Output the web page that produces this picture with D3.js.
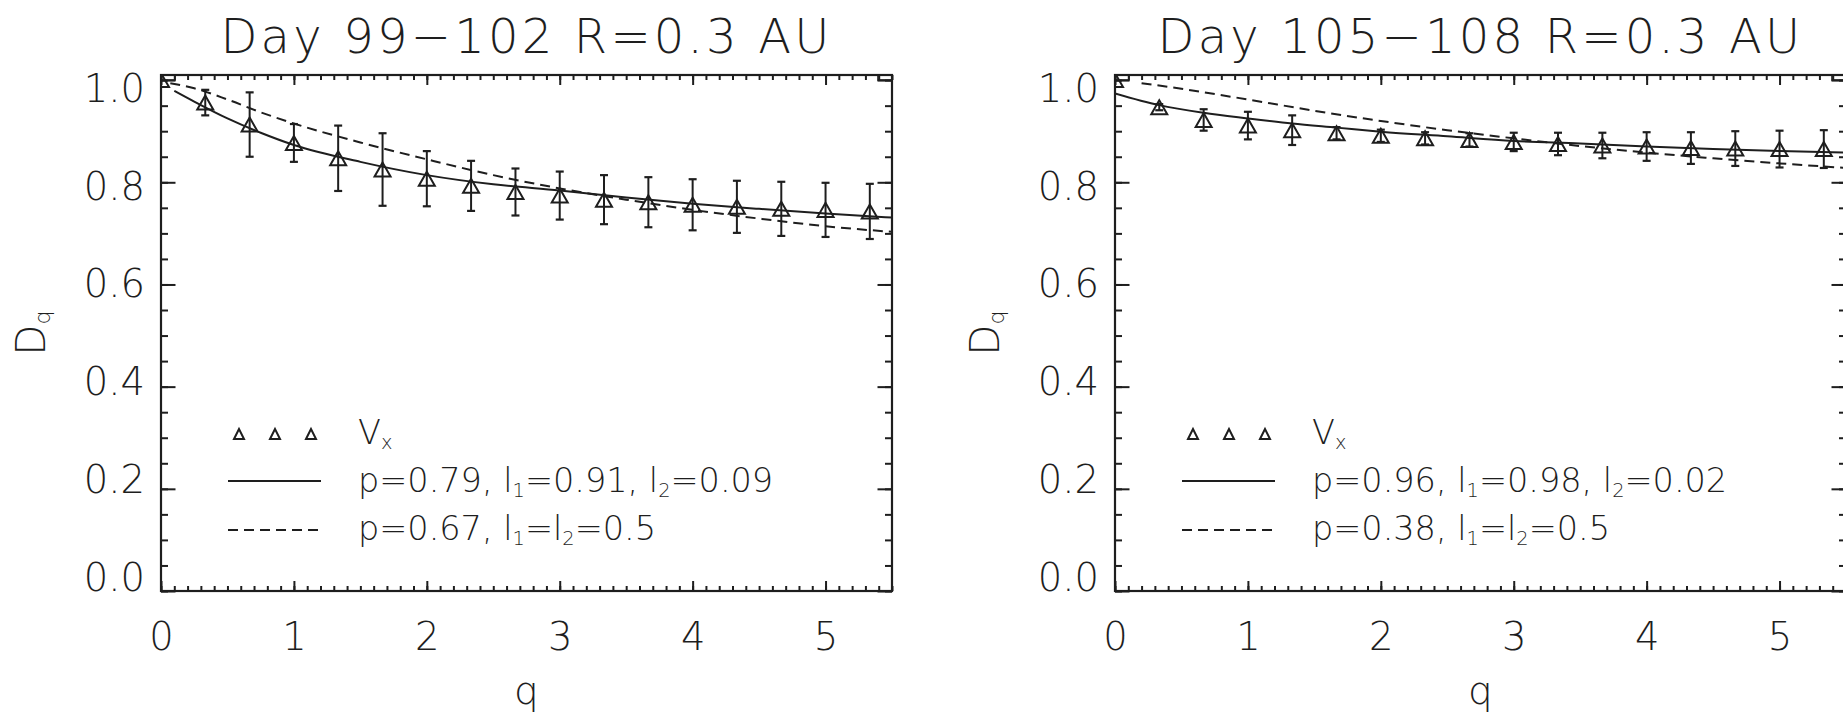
<!DOCTYPE html>
<html><head><meta charset="utf-8">
<script src="https://cdn.jsdelivr.net/npm/d3@7"></script>
<style>
html,body{margin:0;padding:0;background:#fff;}
svg text{font-family:"DejaVu Sans","Roboto",sans-serif;font-weight:200;fill:#1e1e1e;}
</style></head><body>
<svg id="chart" width="1843" height="712"></svg>
<script>
// ---------- data ----------
const titles = ["Day 99\u2212102 R=0.3 AU", "Day 105\u2212108 R=0.3 AU"];
const xTicks = [0, 1, 2, 3, 4, 5];
const yTicks = [0.0, 0.2, 0.4, 0.6, 0.8, 1.0];
const xTickLabels = ["0", "1", "2", "3", "4", "5"];
const yTickLabels = ["0.0", "0.2", "0.4", "0.6", "0.8", "1.0"];

const qPoints = [0, 0.333, 0.667, 1.0, 1.333, 1.667, 2.0, 2.333, 2.667, 3.0, 3.333, 3.667, 4.0, 4.333, 4.667, 5.0, 5.333];

const dqLeft  = [1.0, 0.956, 0.913, 0.877, 0.847, 0.825, 0.807, 0.793, 0.781, 0.774, 0.766, 0.761, 0.756, 0.752, 0.748, 0.746, 0.743];
const errLeft = [0.0, 0.025, 0.063, 0.037, 0.064, 0.071, 0.054, 0.049, 0.046, 0.047, 0.048, 0.049, 0.050, 0.051, 0.053, 0.053, 0.054];

const dqRight  = [1.0, 0.947, 0.922, 0.911, 0.902, 0.896, 0.891, 0.886, 0.883, 0.879, 0.875, 0.872, 0.870, 0.867, 0.866, 0.865, 0.865];
const errRight = [0.0, 0.006, 0.021, 0.027, 0.029, 0.012, 0.012, 0.012, 0.013, 0.018, 0.022, 0.025, 0.028, 0.031, 0.034, 0.036, 0.037];

const solidLeftQ   = [0.1, 0.25, 0.5, 0.75, 1.0, 1.5, 2.0, 2.5, 3.0, 3.5, 4.0, 4.5, 5.0, 5.5];
const solidLeftDq  = [0.979, 0.958, 0.925, 0.897, 0.873, 0.840, 0.814, 0.796, 0.784, 0.770, 0.758, 0.748, 0.739, 0.731];
const dashedLeftQ  = [0.07, 0.25, 0.5, 0.75, 1.0, 1.5, 2.0, 2.5, 3.0, 3.5, 4.0, 4.5, 5.0, 5.5];
const dashedLeftDq = [0.994, 0.984, 0.962, 0.937, 0.915, 0.878, 0.845, 0.814, 0.788, 0.766, 0.746, 0.729, 0.714, 0.703];

const solidRightQ   = [0.0, 0.333, 0.667, 1.0, 1.333, 1.667, 2.0, 2.5, 3.0, 3.5, 4.0, 4.5, 5.0, 5.5];
const solidRightDq  = [0.974, 0.951, 0.936, 0.925, 0.915, 0.907, 0.899, 0.890, 0.881, 0.876, 0.870, 0.865, 0.861, 0.858];
const dashedRightQ  = [0.2, 0.5, 1.0, 1.5, 2.0, 2.5, 3.0, 3.5, 4.0, 4.5, 5.0, 5.5];
const dashedRightDq = [0.994, 0.983, 0.962, 0.940, 0.920, 0.902, 0.886, 0.871, 0.858, 0.847, 0.837, 0.828];

// legend labels: [text, subscript?]
const legendSymbolLabel = [["V", 0], ["x", 1]];
const legendSolidLeft  = [["p=0.79, l", 0], ["1", 1], ["=0.91, l", 0], ["2", 1], ["=0.09", 0]];
const legendDashedLeft = [["p=0.67, l", 0], ["1", 1], ["=l", 0], ["2", 1], ["=0.5", 0]];
const legendSolidRight  = [["p=0.96, l", 0], ["1", 1], ["=0.98, l", 0], ["2", 1], ["=0.02", 0]];
const legendDashedRight = [["p=0.38, l", 0], ["1", 1], ["=l", 0], ["2", 1], ["=0.5", 0]];

// ---------- layout ----------
const svg = d3.select("#chart");
const INK = "#1e1e1e";
const panelW = 731, panelH = 516, topY = 75;
const panelX = [161, 1115];

const panels = [
  {title: titles[0], dq: dqLeft, err: errLeft, sq: solidLeftQ, sd: solidLeftDq, dqq: dashedLeftQ, dd: dashedLeftDq, ls: legendSolidLeft, ld: legendDashedLeft},
  {title: titles[1], dq: dqRight, err: errRight, sq: solidRightQ, sd: solidRightDq, dqq: dashedRightQ, dd: dashedRightDq, ls: legendSolidRight, ld: legendDashedRight}
];

function addRich(sel, parts, fs) {
  parts.forEach(([t, sub], i) => {
    const ts = sel.append("tspan").text(t);
    if (sub) ts.attr("font-size", fs * 0.58).attr("dy", fs * 0.16);
    else if (i > 0 && parts[i - 1][1]) ts.attr("dy", -fs * 0.16);
  });
}

panels.forEach((p, pi) => {
  const x0 = panelX[pi];
  const g = svg.append("g").attr("transform", `translate(${x0},${topY})`);
  const x = d3.scaleLinear().domain([0, 5.5]).range([0, panelW]);
  const y = d3.scaleLinear().domain([0, 1.01]).range([panelH, 0]);
  // tick-label placement scale (labels in the original sit slightly closer together than the ticks)
  const yLab = d3.scaleLinear().domain([0, 1]).range([panelH - 13, 14]);

  const clipId = "clip" + pi;
  g.append("clipPath").attr("id", clipId).append("rect")
    .attr("x", 0).attr("y", 0).attr("width", panelW).attr("height", panelH);

  // title
  svg.append("text").attr("x", x0 + panelW / 2).attr("y", 53)
    .attr("text-anchor", "middle").attr("font-size", 48).attr("letter-spacing", 3.2)
    .text(p.title);

  // axes
  const minorX = d3.range(0, 5.51, 0.1);
  const minorY = d3.range(0, 1.001, 0.05);
  const axes = [
    {a: d3.axisBottom(x).tickValues(xTicks).tickFormat((d, i) => xTickLabels[i]).tickSizeInner(-10).tickSizeOuter(0).tickPadding(32), t: `translate(0,${panelH})`},
    {a: d3.axisBottom(x).tickValues(minorX).tickFormat("").tickSizeInner(-5).tickSizeOuter(0), t: `translate(0,${panelH})`},
    {a: d3.axisTop(x).tickValues(xTicks).tickFormat("").tickSizeInner(-10).tickSizeOuter(0), t: `translate(0,0)`},
    {a: d3.axisTop(x).tickValues(minorX).tickFormat("").tickSizeInner(-5).tickSizeOuter(0), t: `translate(0,0)`},
    {a: d3.axisLeft(y).tickValues(yTicks).tickFormat("").tickSizeInner(-14.5).tickSizeOuter(0), t: `translate(0,0)`},
    {a: d3.axisLeft(yLab).tickValues(yTicks).tickFormat((d, i) => yTickLabels[i]).tickSizeInner(0).tickSizeOuter(0).tickPadding(16), t: `translate(0,0)`, nolines: true},
    {a: d3.axisLeft(y).tickValues(minorY).tickFormat("").tickSizeInner(-7).tickSizeOuter(0), t: `translate(0,0)`},
    {a: d3.axisRight(y).tickValues(yTicks).tickFormat("").tickSizeInner(-14.5).tickSizeOuter(0), t: `translate(${panelW},0)`},
    {a: d3.axisRight(y).tickValues(minorY).tickFormat("").tickSizeInner(-7).tickSizeOuter(0), t: `translate(${panelW},0)`}
  ];
  axes.forEach(ax => {
    const ag = g.append("g").attr("transform", ax.t).call(ax.a);
    ag.select(".domain").remove();
    ag.attr("font-family", null).attr("font-size", null);
    if (ax.nolines) ag.selectAll(".tick line").remove();
    ag.selectAll(".tick line").attr("stroke", INK).attr("stroke-width", 2);
    ag.selectAll(".tick text").attr("fill", INK).attr("font-size", 38.5);
  });

  // frame
  g.append("rect").attr("x", 0).attr("y", 0).attr("width", panelW).attr("height", panelH)
    .attr("fill", "none").attr("stroke", INK).attr("stroke-width", 2.2);
  // small corner boxes
  g.append("rect").attr("x", 0).attr("y", 0).attr("width", 14).attr("height", 5)
    .attr("fill", "none").attr("stroke", INK).attr("stroke-width", 1.6);
  g.append("rect").attr("x", panelW - 14).attr("y", 0).attr("width", 14).attr("height", 5)
    .attr("fill", "none").attr("stroke", INK).attr("stroke-width", 1.6);

  // axis titles
  svg.append("text").attr("x", x0 + panelW / 2).attr("y", 704)
    .attr("text-anchor", "middle").attr("font-size", 39).text("q");
  const yl = svg.append("text").attr("transform", `translate(${x0 - 116},${topY + panelH / 2}) rotate(-90)`)
    .attr("text-anchor", "middle").attr("font-size", 40);
  yl.append("tspan").text("D");
  yl.append("tspan").attr("font-size", 22).attr("dy", 5).text("q");

  const data = g.append("g").attr("clip-path", `url(#${clipId})`);

  // curves
  const line = d3.line().x(d => x(d[0])).y(d => y(d[1])).curve(d3.curveMonotoneX);
  data.append("path").datum(p.sq.map((q, i) => [q, p.sd[i]]))
    .attr("d", line).attr("fill", "none").attr("stroke", INK).attr("stroke-width", 2);
  data.append("path").datum(p.dqq.map((q, i) => [q, p.dd[i]]))
    .attr("d", line).attr("fill", "none").attr("stroke", INK).attr("stroke-width", 2)
    .attr("stroke-dasharray", "10,6");

  // error bars
  const pts = qPoints.map((q, i) => ({q, v: p.dq[i], e: p.err[i]}));
  const eb = data.selectAll(".eb").data(pts.filter(d => d.e > 0)).enter().append("g");
  eb.append("line").attr("x1", d => x(d.q)).attr("x2", d => x(d.q))
    .attr("y1", d => y(d.v - d.e)).attr("y2", d => y(d.v + d.e))
    .attr("stroke", INK).attr("stroke-width", 2);
  [1, -1].forEach(s => {
    eb.append("line").attr("x1", d => x(d.q) - 4).attr("x2", d => x(d.q) + 4)
      .attr("y1", d => y(d.v + s * d.e)).attr("y2", d => y(d.v + s * d.e))
      .attr("stroke", INK).attr("stroke-width", 2.2);
  });

  // triangles
  const tri = (cx, cy, hw, hh) => `M${cx - hw},${cy + hh}L${cx},${cy - hh}L${cx + hw},${cy + hh}Z`;
  data.selectAll(".tri").data(pts).enter().append("path")
    .attr("d", d => tri(x(d.q), y(d.v), 8, 7))
    .attr("fill", "none").attr("stroke", INK).attr("stroke-width", 2).attr("stroke-linejoin", "miter");

  // legend
  const lg = g.append("g");
  const lx = 197, r1 = 359, r2 = 406, r3 = 455;
  [78, 114, 150].forEach(cx => {
    lg.append("path").attr("d", tri(cx, r1, 5, 5)).attr("fill", "none")
      .attr("stroke", INK).attr("stroke-width", 2);
  });
  lg.append("line").attr("x1", 67).attr("x2", 160).attr("y1", r2).attr("y2", r2)
    .attr("stroke", INK).attr("stroke-width", 2);
  lg.append("line").attr("x1", 67).attr("x2", 160).attr("y1", r3).attr("y2", r3)
    .attr("stroke", INK).attr("stroke-width", 2).attr("stroke-dasharray", "10,6");
  const fs = 33.5;
  const t1 = lg.append("text").attr("x", lx).attr("y", r1 + 10).attr("font-size", fs);
  addRich(t1, legendSymbolLabel, fs);
  const t2 = lg.append("text").attr("x", lx).attr("y", r2 + 11).attr("font-size", fs);
  addRich(t2, p.ls, fs);
  const t3 = lg.append("text").attr("x", lx).attr("y", r3 + 10).attr("font-size", fs);
  addRich(t3, p.ld, fs);
});
</script>
</body></html>
